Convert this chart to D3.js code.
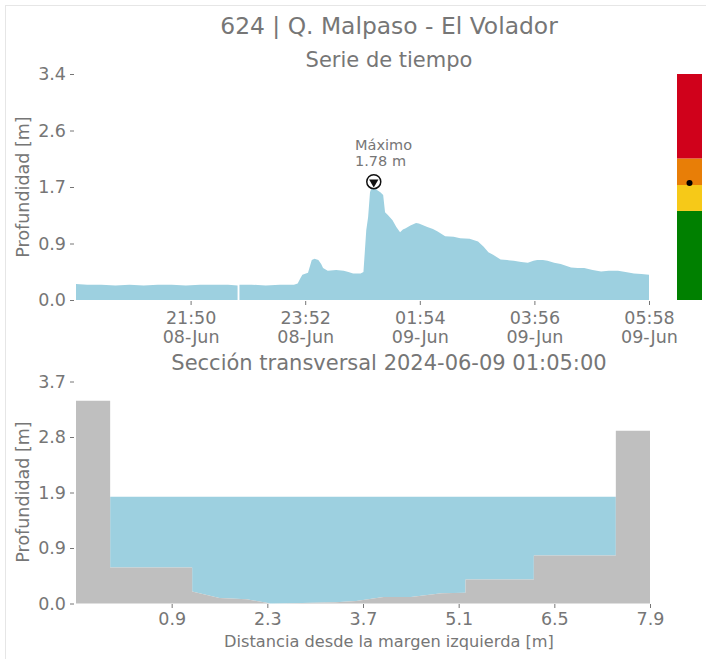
<!DOCTYPE html>
<html>
<head>
<meta charset="utf-8">
<script src="https://cdn.jsdelivr.net/npm/d3@7"></script>
<style>
  body { margin: 0; background: #fff; }
  svg text { font-family: "DejaVu Sans", sans-serif; fill: #767676; }
</style>
</head>
<body>
<svg id="chart" width="706" height="659"></svg>
<script>
// serie de tiempo (profundidad en m), null = dato faltante
var tiempos = ["2024-06-08 19:48","2024-06-08 20:00","2024-06-08 20:15","2024-06-08 20:30","2024-06-08 20:45",
  "2024-06-08 21:00","2024-06-08 21:15","2024-06-08 21:30","2024-06-08 21:45","2024-06-08 22:00",
  "2024-06-08 22:15","2024-06-08 22:30","2024-06-08 22:40","2024-06-08 22:41","2024-06-08 22:42",
  "2024-06-08 22:55","2024-06-08 23:10","2024-06-08 23:25","2024-06-08 23:40","2024-06-08 23:44",
  "2024-06-08 23:47","2024-06-08 23:49","2024-06-08 23:55","2024-06-08 23:59","2024-06-09 00:02",
  "2024-06-09 00:06","2024-06-09 00:09","2024-06-09 00:11","2024-06-09 00:16","2024-06-09 00:25",
  "2024-06-09 00:33","2024-06-09 00:38","2024-06-09 00:43","2024-06-09 00:51","2024-06-09 00:54",
  "2024-06-09 00:57","2024-06-09 00:59","2024-06-09 01:01","2024-06-09 01:05","2024-06-09 01:08",
  "2024-06-09 01:12","2024-06-09 01:15","2024-06-09 01:17","2024-06-09 01:20","2024-06-09 01:25",
  "2024-06-09 01:29","2024-06-09 01:33","2024-06-09 01:36","2024-06-09 01:39","2024-06-09 01:44",
  "2024-06-09 01:50","2024-06-09 01:53","2024-06-09 02:02","2024-06-09 02:08","2024-06-09 02:13",
  "2024-06-09 02:21","2024-06-09 02:30","2024-06-09 02:37","2024-06-09 02:47","2024-06-09 02:56",
  "2024-06-09 03:02","2024-06-09 03:07","2024-06-09 03:12","2024-06-09 03:20","2024-06-09 03:27",
  "2024-06-09 03:34","2024-06-09 03:42","2024-06-09 03:49","2024-06-09 03:55","2024-06-09 03:59",
  "2024-06-09 04:05","2024-06-09 04:10","2024-06-09 04:17","2024-06-09 04:24","2024-06-09 04:35",
  "2024-06-09 04:42","2024-06-09 04:49","2024-06-09 04:58","2024-06-09 05:07","2024-06-09 05:15",
  "2024-06-09 05:25","2024-06-09 05:33","2024-06-09 05:42","2024-06-09 05:50","2024-06-09 05:58"];
var profundidad = [0.24,0.23,0.23,0.22,0.23,
  0.22,0.23,0.23,0.22,0.23,
  0.23,0.23,0.22,null,0.23,
  0.23,0.22,0.23,0.23,0.25,
  0.33,0.38,0.41,0.60,0.62,
  0.60,0.54,0.48,0.44,0.45,
  0.44,0.42,0.40,0.40,0.42,
  1.05,1.25,1.62,1.78,1.66,
  1.62,1.58,1.32,1.28,1.20,
  1.10,1.02,1.06,1.08,1.12,
  1.16,1.15,1.10,1.07,1.03,
  0.96,0.95,0.93,0.92,0.88,
  0.80,0.72,0.68,0.61,0.60,
  0.59,0.57,0.56,0.59,0.60,
  0.60,0.59,0.56,0.54,0.49,
  0.48,0.48,0.45,0.43,0.44,
  0.44,0.42,0.40,0.39,0.38];

var tInicio = "2024-06-08 19:48", tFin = "2024-06-09 05:58";
var xTicksTop = ["2024-06-08 21:50","2024-06-08 23:52","2024-06-09 01:54","2024-06-09 03:56","2024-06-09 05:58"];
var yTicksTop = [0, 0.85, 1.7, 2.55, 3.4];
var yLabelsTop = ["0.0","0.9","1.7","2.6","3.4"];

var maximo = {t: "2024-06-09 01:05", v: 1.78};

// umbrales de alerta (m)
var umbrales = [0, 1.34, 1.73, 2.13, 3.4];
var coloresAlerta = ["#008000", "#f6c918", "#e87e07", "#d0011b"];
var nivelActual = 1.76;

// seccion transversal
var secX = [-0.5, 0.0, 0.0, 1.2, 1.2, 1.6, 2.0, 2.35, 2.8, 3.3, 3.6, 4.0, 4.4, 4.85, 5.2, 5.2, 6.2, 6.2, 7.4, 7.4, 7.9];
var secZ = [3.38, 3.38, 0.6, 0.6, 0.2, 0.09, 0.07, 0.0, 0.01, 0.02, 0.04, 0.11, 0.11, 0.17, 0.18, 0.4, 0.4, 0.8, 0.8, 2.88, 2.88];
var nivelAgua = 1.78;
var xTicksSec = [0.9, 2.3, 3.7, 5.1, 6.5, 7.9];
var yTicksSec = [0, 0.925, 1.85, 2.775, 3.7];
var yLabelsSec = ["0.0","0.9","1.9","2.8","3.7"];

var parse = d3.timeParse("%Y-%m-%d %H:%M");
var svg = d3.select("#chart");
var gris = "#767676", azul = "#9dd0e0", suelo = "#bfbfbf";

// marco
svg.append("rect").attr("x", 5.5).attr("y", 5.5).attr("width", 720).attr("height", 670)
  .attr("fill", "none").attr("stroke", "#e6e6e6");

// titulos
svg.append("text").attr("x", 389).attr("y", 34).attr("text-anchor", "middle")
  .style("font-size", "23.4px").text("624 | Q. Malpaso - El Volador");
svg.append("text").attr("x", 389).attr("y", 67).attr("text-anchor", "middle")
  .style("font-size", "21px").text("Serie de tiempo");
svg.append("text").attr("x", 389).attr("y", 370).attr("text-anchor", "middle")
  .style("font-size", "21px").text("Sección transversal 2024-06-09 01:05:00");

// ---- serie de tiempo ----
var data = tiempos.map(function(t, i){ return {t: parse(t), v: profundidad[i]}; });

var x = d3.scaleTime().domain([parse(tInicio), parse(tFin)]).range([76, 649]);
var y = d3.scaleLinear().domain([0, 3.4]).range([300, 74]);

var area = d3.area()
  .defined(function(d){ return d.v != null; })
  .x(function(d){ return x(d.t); })
  .y0(y(0))
  .y1(function(d){ return y(d.v); });

svg.append("path").datum(data).attr("d", area).attr("fill", azul);

var fmtHora = d3.timeFormat("%H:%M"), fmtDia = d3.timeFormat("%d-%b");
var xAxisTop = svg.append("g").attr("transform", "translate(0,301)")
  .call(d3.axisBottom(x).tickValues(xTicksTop.map(parse)).tickSize(4).tickFormat(""));
xAxisTop.selectAll(".tick").each(function(d){
  var g = d3.select(this);
  g.append("text").attr("y", 23).attr("text-anchor", "middle").style("font-size", "17.8px").text(fmtHora(d));
  g.append("text").attr("y", 42).attr("text-anchor", "middle").style("font-size", "17.8px").text(fmtDia(d));
});

var yAxisTop = svg.append("g").attr("transform", "translate(74,0)")
  .call(d3.axisLeft(y).tickValues(yTicksTop).tickSize(4).tickPadding(4)
    .tickFormat(function(d, i){ return yLabelsTop[i]; }));

[xAxisTop, yAxisTop].forEach(function(a){
  a.select(".domain").remove();
  a.selectAll(".tick line").attr("stroke", gris);
  a.selectAll(".tick text").style("font-size", "17.5px").attr("fill", gris);
});

svg.append("text").attr("transform", "translate(29,187) rotate(-90)").attr("text-anchor", "middle")
  .style("font-size", "17.5px").text("Profundidad [m]");

// maximo
svg.append("circle").attr("cx", x(parse(maximo.t))).attr("cy", y(maximo.v)).attr("r", 7)
  .attr("fill", "#fff").attr("stroke", "#111").attr("stroke-width", 1.5);
svg.append("path").attr("d", d3.symbol().type(d3.symbolTriangle).size(38))
  .attr("transform", "translate(" + x(parse(maximo.t)) + "," + (y(maximo.v) + 0.5) + ") rotate(180)")
  .attr("fill", "#111");
svg.append("text").attr("x", 355).attr("y", 150).style("font-size", "14.5px").text("Máximo");
svg.append("text").attr("x", 355).attr("y", 166).style("font-size", "14.5px").text(maximo.v.toFixed(2) + " m");

// barra de alerta
coloresAlerta.forEach(function(c, i){
  svg.append("rect").attr("x", 677).attr("width", 25)
    .attr("y", y(umbrales[i + 1])).attr("height", y(umbrales[i]) - y(umbrales[i + 1]))
    .attr("fill", c);
});
svg.append("circle").attr("cx", 689.5).attr("cy", y(nivelActual)).attr("r", 3).attr("fill", "#000");

// ---- seccion transversal ----
var sec = secX.map(function(d, i){ return {x: d, z: secZ[i]}; });
var xs = d3.scaleLinear().domain([-0.5, 7.9]).range([76, 650]);
var ys = d3.scaleLinear().domain([0, 3.7]).range([603.5, 381.5]);

svg.append("path").datum(sec).attr("fill", azul)
  .attr("d", d3.area()
    .x(function(d){ return xs(d.x); })
    .y0(function(d){ return ys(d.z); })
    .y1(function(d){ return ys(Math.max(d.z, nivelAgua)); }));

svg.append("path").datum(sec).attr("fill", suelo)
  .attr("d", d3.area()
    .x(function(d){ return xs(d.x); })
    .y0(ys(0))
    .y1(function(d){ return ys(d.z); }));

var xAxisSec = svg.append("g").attr("transform", "translate(0,604)")
  .call(d3.axisBottom(xs).tickValues(xTicksSec).tickSize(4).tickPadding(5).tickFormat(d3.format(".1f")));
var yAxisSec = svg.append("g").attr("transform", "translate(74,0)")
  .call(d3.axisLeft(ys).tickValues(yTicksSec).tickSize(4).tickPadding(4)
    .tickFormat(function(d, i){ return yLabelsSec[i]; }));
[xAxisSec, yAxisSec].forEach(function(a){
  a.select(".domain").remove();
  a.selectAll(".tick line").attr("stroke", gris);
  a.selectAll(".tick text").style("font-size", "17.5px").attr("fill", gris);
});

svg.append("text").attr("transform", "translate(29,492) rotate(-90)").attr("text-anchor", "middle")
  .style("font-size", "17.5px").text("Profundidad [m]");
svg.append("text").attr("x", 389).attr("y", 647).attr("text-anchor", "middle")
  .style("font-size", "16.2px").text("Distancia desde la margen izquierda [m]");
</script>
</body>
</html>
